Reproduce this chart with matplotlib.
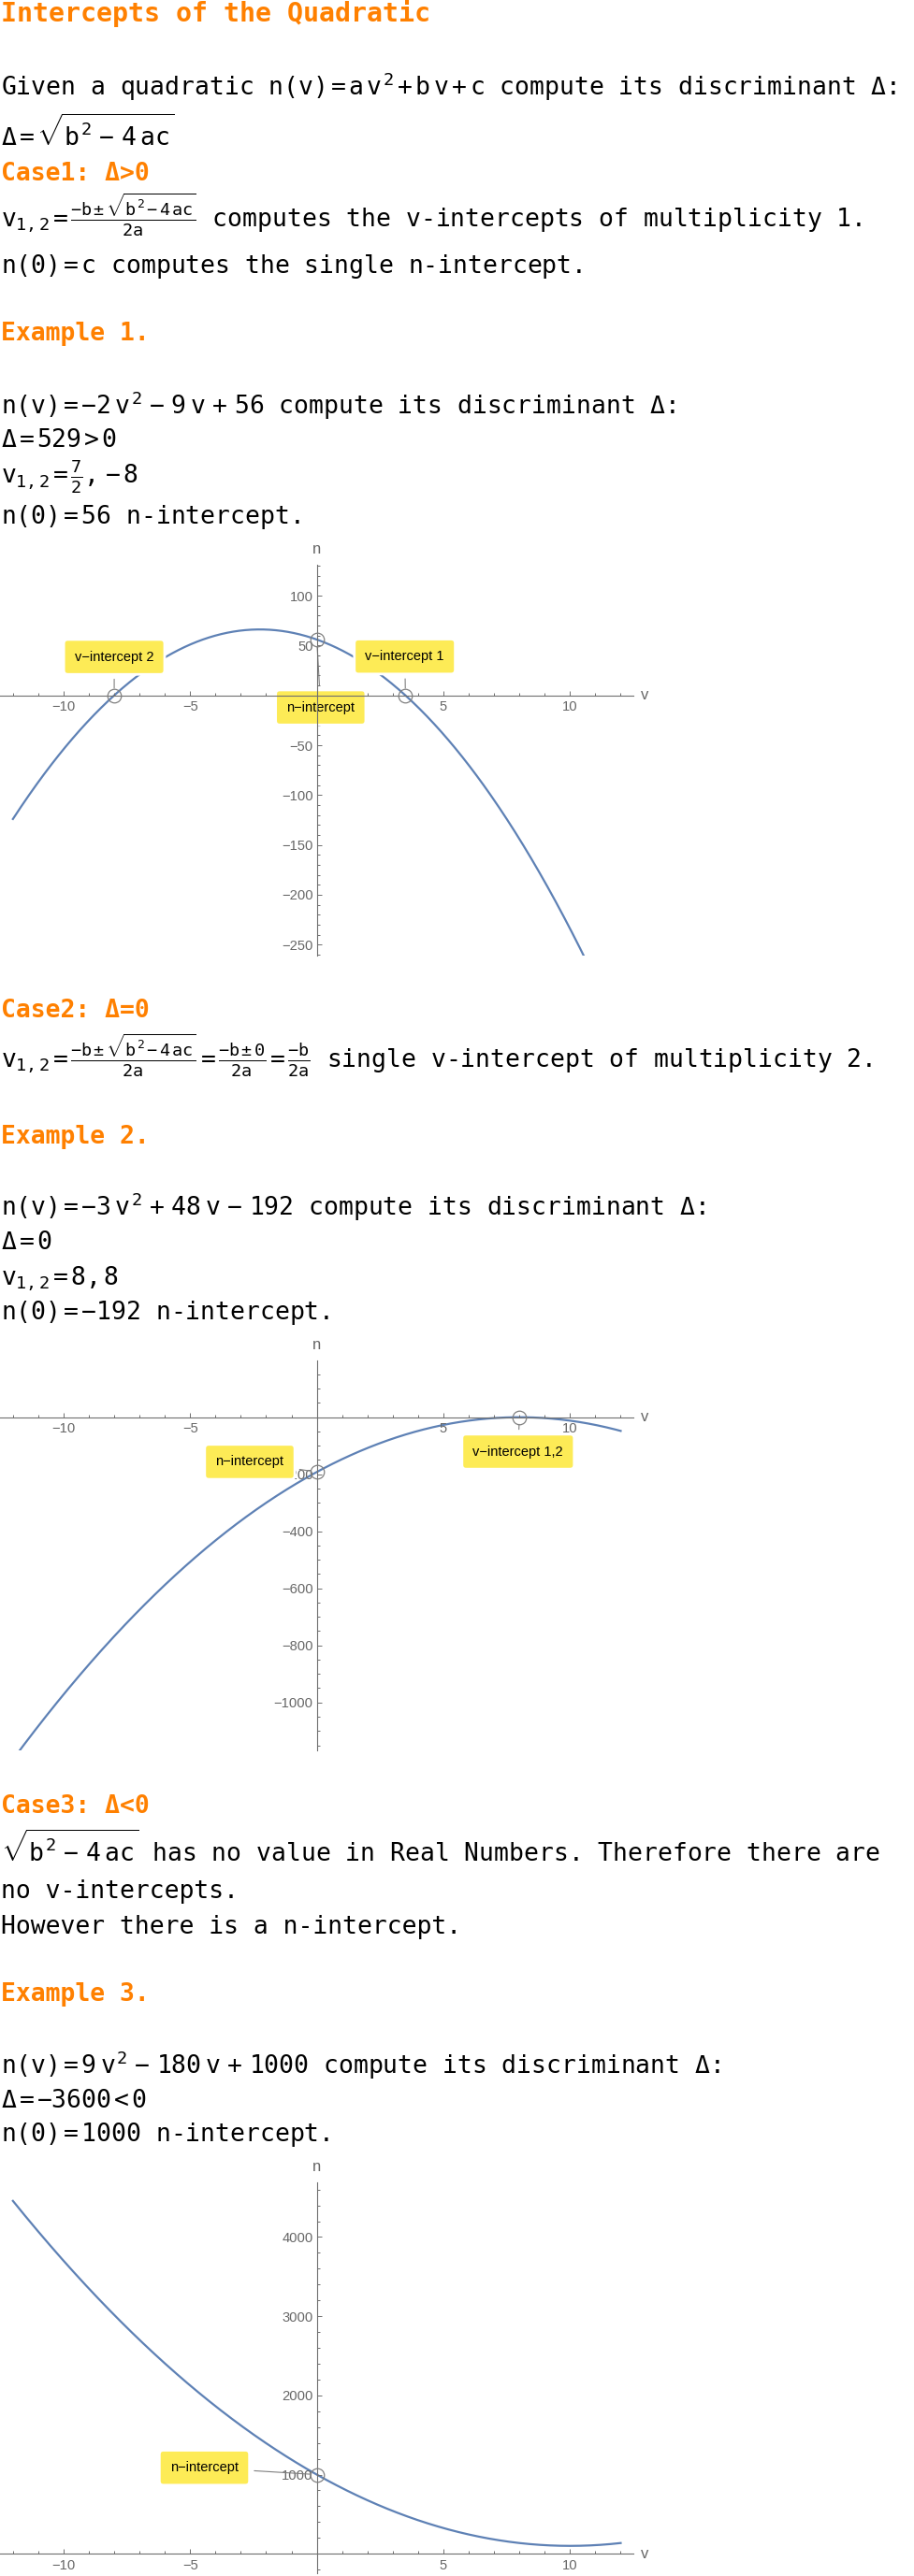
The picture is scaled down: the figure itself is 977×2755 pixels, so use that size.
import numpy as np
import matplotlib
matplotlib.use('Agg')
import matplotlib.pyplot as plt

# ---- data (read from the page) ----
v_domain = [-12, 12]

coef_1 = [-2, -9, 56]        # n(v) = -2 v^2 - 9 v + 56
pts_1_v = [-8, 3.5, 0]
pts_1_n = [0, 0, 56]
labels_1 = ['v\u2212intercept 2', 'v\u2212intercept 1', 'n\u2212intercept']

coef_2 = [-3, 48, -192]      # n(v) = -3 v^2 + 48 v - 192
pts_2_v = [0, 8]
pts_2_n = [-192, 0]
labels_2 = ['n\u2212intercept', 'v\u2212intercept 1,2']

coef_3 = [9, -180, 1000]     # n(v) = 9 v^2 - 180 v + 1000
pts_3_v = [0]
pts_3_n = [1000]
labels_3 = ['n\u2212intercept']

x_major = [-10, -5, 5, 10]

# ---- style ----
W, H = 978, 2755
ORANGE = '#FF8000'
CURVE = '#5E81B5'
AXIS = '#6e6e6e'
YELLOW = '#FDEB56'
BODY = 19
plt.rcParams['mathtext.fontset'] = 'custom'
plt.rcParams['mathtext.rm'] = 'DejaVu Sans Mono'
plt.rcParams['mathtext.it'] = 'DejaVu Sans Mono'
plt.rcParams['mathtext.sf'] = 'DejaVu Sans Mono'
plt.rcParams['mathtext.bf'] = 'DejaVu Sans Mono:bold'

fig = plt.figure(figsize=(W / 100, H / 100), dpi=100)


def line(y, s, head=False, size=BODY):
    fig.text(1 / W, 1 - y / H, s, ha='left', va='baseline',
             family='DejaVu Sans Mono', fontsize=size,
             color=ORANGE if head else 'black',
             fontweight='bold' if head else 'normal')


def plot_block(top, bottom, ylim, y_major, y_minor, coef, pv, pn, labels, offsets):
    ax = fig.add_axes([0, 1 - bottom / H, 677 / W, (bottom - top) / H])
    ax.set_xlim(-12.51, 12.5)
    ax.set_ylim(*ylim)
    ax.patch.set_visible(False)
    for s in ['top', 'right']:
        ax.spines[s].set_visible(False)
    ax.spines['left'].set_position(('data', 0))
    ax.spines['bottom'].set_position(('data', 0))
    for s in ['left', 'bottom']:
        ax.spines[s].set_color(AXIS)
        ax.spines[s].set_linewidth(0.8)
    ax.set_xticks(x_major)
    ax.set_xticks([t for t in range(-12, 13) if t not in x_major + [0]], minor=True)
    ax.set_yticks(y_major)
    ax.set_yticks([t for t in y_minor if t not in y_major + [0]], minor=True)
    ax.tick_params(which='both', direction='in', color=AXIS, width=0.7)
    ax.tick_params(which='major', length=3.4)
    ax.tick_params(which='minor', length=2.1)
    ax.tick_params(axis='x', which='major', pad=4)
    ax.tick_params(axis='y', which='major', pad=3)
    for lab in ax.get_xticklabels() + ax.get_yticklabels():
        lab.set_family('Liberation Sans')
        lab.set_fontsize(10.6)
        lab.set_color('#666666')

    vv = np.linspace(v_domain[0], v_domain[1], 600)
    ax.plot(vv, np.polyval(coef, vv), color=CURVE, lw=1.6, zorder=1.5)
    ax.plot(pv, pn, 'o', ms=10.5, mfc='none', mec='#808080', mew=0.9, zorder=3)

    for x, y, lab, off in zip(pv, pn, labels, offsets):
        ax.annotate(lab, xy=(x, y), xytext=off, textcoords='offset points',
                    ha='center', va='center', fontsize=10.5,
                    family='Liberation Sans', color='black', zorder=2,
                    bbox=dict(boxstyle='round,pad=0.8,rounding_size=0.3',
                              fc=YELLOW, ec='white', lw=2),
                    arrowprops=dict(arrowstyle='-', color='#808080', lw=0.8,
                                    shrinkA=3, shrinkB=5.5))

    ax.annotate('v', xy=(1, 0), xycoords=('axes fraction', 'data'),
                xytext=(6, 0), textcoords='offset points', ha='left',
                va='center', fontsize=12, family='Liberation Sans', color='#666666')
    ax.annotate('n', xy=(0, 1), xycoords=('data', 'axes fraction'),
                xytext=(0, 12), textcoords='offset points', ha='center',
                va='center', fontsize=12, family='Liberation Sans', color='#666666')
    return ax


# ---- text ----
line(23, 'Intercepts of the Quadratic', head=True, size=20.3)
line(102, r'Given a quadratic $n(v)=a\:v^2\:+\:b\:v\:+\:c$ compute its discriminant Δ:')
line(156, r'$\Delta=\sqrt{b^2\;-\;4\;ac}$')
line(193, 'Case1: Δ>0', head=True)
line(243, r'$v_{1,2}=\frac{-b\pm\sqrt{b^2-4\,ac}}{2a}$ computes the v-intercepts of multiplicity 1.')
line(292, r'$n(0)=c$ computes the single n-intercept.')
line(364, 'Example 1.', head=True)
line(443, r'$n(v)=-2\;v^2\;-\;9\;v\;+\;56$ compute its discriminant Δ:')
line(478, r'$\Delta=529>0$')
line(518, r'$v_{1,2}=\frac{7}{2},-8$')
line(560, r'$n(0)=56$ n-intercept.')

line(1088, 'Case2: Δ=0', head=True)
line(1142, r'$v_{1,2}=\frac{-b\pm\sqrt{b^2-4\,ac}}{2a}=\frac{-b\pm0}{2a}=\frac{-b}{2a}$ single v-intercept of multiplicity 2.')
line(1223, 'Example 2.', head=True)
line(1300, r'$n(v)=-3\;v^2\;+\;48\;v\;-\;192$ compute its discriminant Δ:')
line(1336, r'$\Delta=0$')
line(1373, r'$v_{1,2}=8,8$')
line(1411, r'$n(0)=-192$ n-intercept.')

line(1939, 'Case3: Δ<0', head=True)
line(1991, r'$\sqrt{b^2\;-\;4\;ac}$ has no value in Real Numbers. Therefore there are')
line(2030, 'no v-intercepts.')
line(2068, 'However there is a n-intercept.')
line(2140, 'Example 3.', head=True)
line(2218, r'$n(v)=9\;v^2\;-\;180\;v\;+\;1000$ compute its discriminant Δ:')
line(2254, r'$\Delta=-3600<0$')
line(2290, r'$n(0)=1000$ n-intercept.')

# ---- plots ----
plot_block(604, 1022, (-261, 131), list(range(-250, 101, 50)), list(range(-260, 131, 10)),
           coef_1, pts_1_v, pts_1_n, labels_1,
           [(0, 29.6), (-0.5, 29.9), (3, -52.3)])
plot_block(1455, 1872, (-1168, 199), list(range(-1000, -199, 200)), list(range(-1150, 200, 50)),
           coef_2, pts_2_v, pts_2_n, labels_2,
           [(-51.6, 7.8), (-1, -26.5)])
plot_block(2334, 2752, (-245, 4690), [1000, 2000, 3000, 4000], list(range(-200, 4601, 200)),
           coef_3, pts_3_v, pts_3_n, labels_3,
           [(-86.5, 5.3)])

fig.savefig('out.png', dpi=100)
